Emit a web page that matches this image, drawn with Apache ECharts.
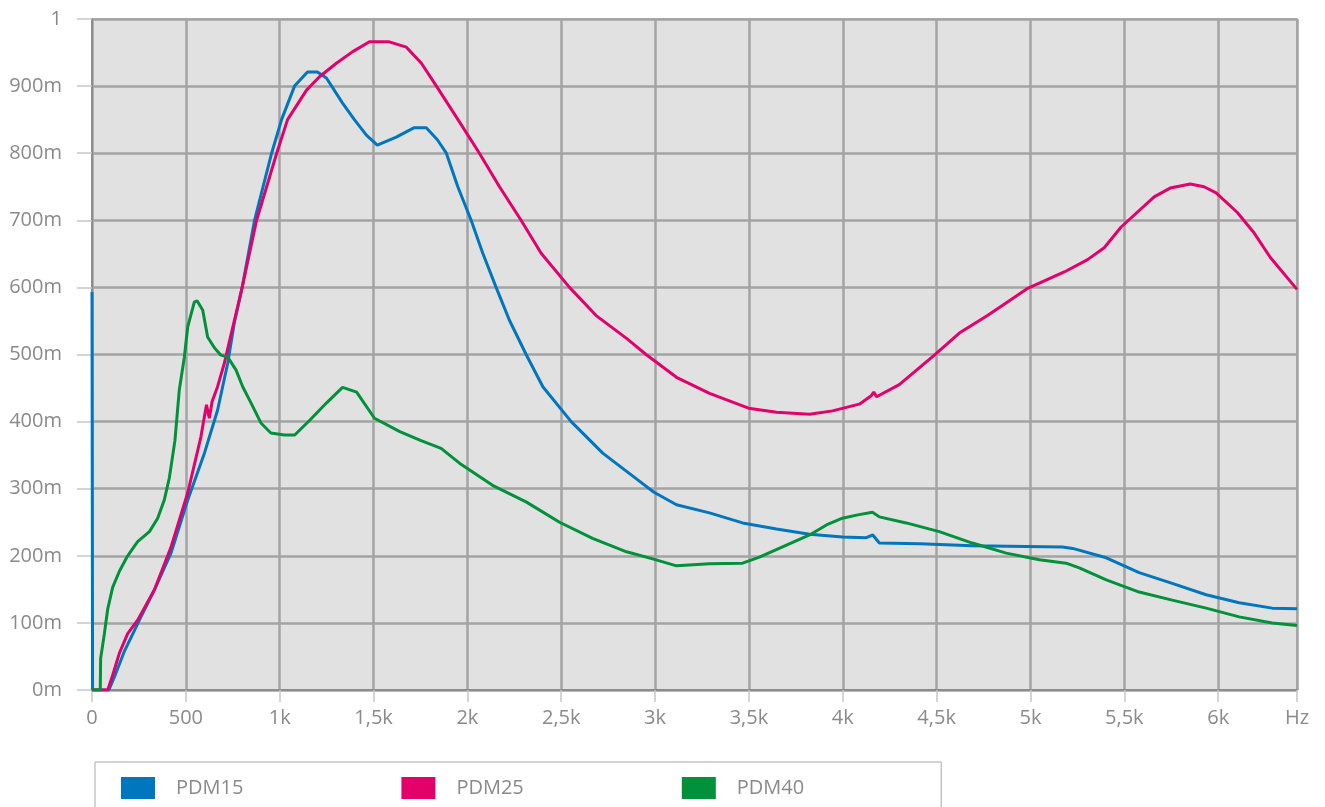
<!DOCTYPE html>
<html>
<head>
<meta charset="utf-8">
<title>PDM</title>
<script src="https://cdn.jsdelivr.net/npm/echarts@6/dist/echarts.min.js"></script>
<style>
  html, body {
    margin: 0;
    padding: 0;
    background: #fff;
  }
  #chart {
    width: 1325px;
    height: 807px;
  }
</style>
</head>
<body>
<div id="chart"></div>
<script>
/* 数据 [Hz, 值] */
var seriesNames = ["PDM15", "PDM25", "PDM40"];
var seriesColors = ["#0076bf", "#e3006b", "#00913a"];

var pdm15 = [
  [0, 0.593], [3, 0], [90, 0], [119, 0.019], [173, 0.058], [261, 0.109], [332, 0.149],
  [421, 0.204], [510, 0.283], [599, 0.353], [669, 0.417], [723, 0.487], [758, 0.547],
  [800, 0.6], [866, 0.7], [957, 0.8], [1010, 0.85], [1079, 0.9], [1148, 0.921],
  [1201, 0.921], [1249, 0.912], [1334, 0.875], [1398, 0.85], [1462, 0.827], [1520, 0.812],
  [1621, 0.824], [1717, 0.838], [1781, 0.838], [1840, 0.82], [1888, 0.8], [1949, 0.75],
  [2020, 0.7], [2082, 0.651], [2153, 0.6], [2224, 0.551], [2313, 0.5], [2402, 0.452],
  [2553, 0.4], [2721, 0.353], [2899, 0.315], [2992, 0.295], [3114, 0.276],
  [3290, 0.264], [3466, 0.249], [3647, 0.24], [3823, 0.232], [3998, 0.228], [4125, 0.227],
  [4160, 0.231], [4195, 0.219], [4410, 0.218], [4690, 0.215], [5170, 0.213], [5225, 0.211],
  [5404, 0.197], [5579, 0.175], [5755, 0.159], [5936, 0.142], [6112, 0.13], [6288, 0.122],
  [6420, 0.121]
];

var pdm25 = [
  [0, 0], [84, 0], [110, 0.022], [146, 0.055], [190, 0.084], [243, 0.104], [332, 0.149],
  [421, 0.213], [510, 0.294], [580, 0.377], [610, 0.425], [625, 0.405], [640, 0.43],
  [669, 0.452], [705, 0.487], [740, 0.529], [776, 0.571], [800, 0.6], [877, 0.7],
  [984, 0.8], [1042, 0.85], [1143, 0.894], [1212, 0.914], [1302, 0.934], [1387, 0.951],
  [1478, 0.966], [1584, 0.966], [1675, 0.958], [1755, 0.934], [1835, 0.9], [1950, 0.85],
  [2064, 0.8], [2171, 0.75], [2286, 0.7], [2393, 0.651], [2544, 0.6], [2686, 0.558],
  [2848, 0.524], [2952, 0.5], [3114, 0.466], [3290, 0.442], [3498, 0.42], [3647, 0.414],
  [3823, 0.411], [3945, 0.416], [4088, 0.426], [4150, 0.438], [4165, 0.444], [4180, 0.437],
  [4301, 0.455], [4488, 0.499], [4621, 0.532], [4775, 0.559], [4982, 0.598], [5180, 0.623],
  [5302, 0.641], [5393, 0.659], [5483, 0.69], [5659, 0.735], [5744, 0.748], [5851, 0.754],
  [5925, 0.75], [5989, 0.741], [6101, 0.712], [6192, 0.681], [6277, 0.645], [6420, 0.597]
];

var pdm40 = [
  [0, 0], [44, 0], [46, 0.047], [66, 0.084], [84, 0.121], [110, 0.153], [146, 0.177],
  [190, 0.2], [243, 0.221], [306, 0.236], [350, 0.256], [385, 0.283], [412, 0.316],
  [442, 0.372], [465, 0.447], [492, 0.496], [510, 0.541], [545, 0.578], [560, 0.58],
  [590, 0.566], [616, 0.526], [652, 0.51], [687, 0.499], [723, 0.496], [767, 0.477],
  [803, 0.452], [847, 0.428], [900, 0.398], [953, 0.383], [1025, 0.38], [1080, 0.38],
  [1160, 0.402], [1250, 0.428], [1335, 0.451], [1410, 0.444], [1505, 0.405], [1640, 0.385],
  [1750, 0.372], [1860, 0.36], [1958, 0.338], [2134, 0.305], [2315, 0.28], [2491, 0.25],
  [2667, 0.226], [2848, 0.206], [2992, 0.195], [3114, 0.185], [3290, 0.188], [3466, 0.189],
  [3556, 0.198], [3700, 0.216], [3823, 0.231], [3913, 0.246], [3998, 0.256], [4080, 0.261],
  [4158, 0.265], [4195, 0.258], [4338, 0.249], [4514, 0.236], [4690, 0.219], [4871, 0.204],
  [5047, 0.194], [5190, 0.189], [5260, 0.182], [5404, 0.164], [5579, 0.146], [5755, 0.134],
  [5936, 0.122], [6112, 0.109], [6288, 0.1], [6420, 0.096]
];

var xMax = 6420;
var allData = [pdm15, pdm25, pdm40];

var myChart = echarts.init(document.getElementById("chart"));

var seriesData = [];
allData.map(function (item, index) {
  seriesData.push({
    name: seriesNames[index],
    type: "line",
    data: item,
    showSymbol: false,
    symbol: "none",
    lineStyle: {
      color: seriesColors[index],
      width: 3,
    },
    itemStyle: {
      color: seriesColors[index],
    },
  });
});

var labelText = {
  color: "#8a8a8a",
  fontFamily: "Open Sans",
  fontSize: 20,
};

var option = {
  animation: false,
  grid: {
    left: 92,
    right: 28,
    top: 19,
    bottom: 117,
    show: true,
    backgroundColor: "#e1e1e1",
    borderColor: "#a3a3a3",
    borderWidth: 1.5,
  },
  legend: {
    left: 95,
    top: 762,
    orient: "horizontal",
    icon: "rect",
    itemWidth: 34,
    itemHeight: 22,
    itemGap: 158,
    padding: [15, 137, 40, 26],
    borderColor: "#aaaaaa",
    borderWidth: 1,
    data: seriesNames,
    textStyle: {
      color: "#8a8a8a",
      fontFamily: "Open Sans",
      fontSize: 20,
      padding: [0, 0, 0, 16],
    },
  },
  xAxis: {
    type: "value",
    min: 0,
    max: xMax,
    interval: 500,
    axisLine: {
      show: true,
      onZero: false,
      lineStyle: { color: "#8c8c8c", width: 2 },
    },
    axisTick: {
      show: true,
      length: 12,
      lineStyle: { color: "#c8c8c8", width: 1.5 },
    },
    splitLine: {
      show: true,
      lineStyle: { color: "#a3a3a3", width: 2.5 },
    },
    axisLabel: Object.assign({}, labelText, {
      margin: 18,
      showMaxLabel: true,
      formatter: function (v) {
        if (v >= xMax) return "Hz";
        if (v < 1000) return String(v);
        return String(v / 1000).replace(".", ",") + "k";
      },
    }),
  },
  yAxis: {
    type: "value",
    min: 0,
    max: 1,
    interval: 0.1,
    axisLine: {
      show: true,
      lineStyle: { color: "#8c8c8c", width: 2 },
    },
    axisTick: {
      show: true,
      length: 15,
      lineStyle: { color: "#c8c8c8", width: 1.5 },
    },
    splitLine: {
      show: true,
      lineStyle: { color: "#a3a3a3", width: 2.5 },
    },
    axisLabel: Object.assign({}, labelText, {
      margin: 30,
      formatter: function (v) {
        if (v >= 1) return "1";
        return Math.round(v * 1000) + "m";
      },
    }),
  },
  series: seriesData,
};

myChart.setOption(option);
</script>
</body>
</html>
